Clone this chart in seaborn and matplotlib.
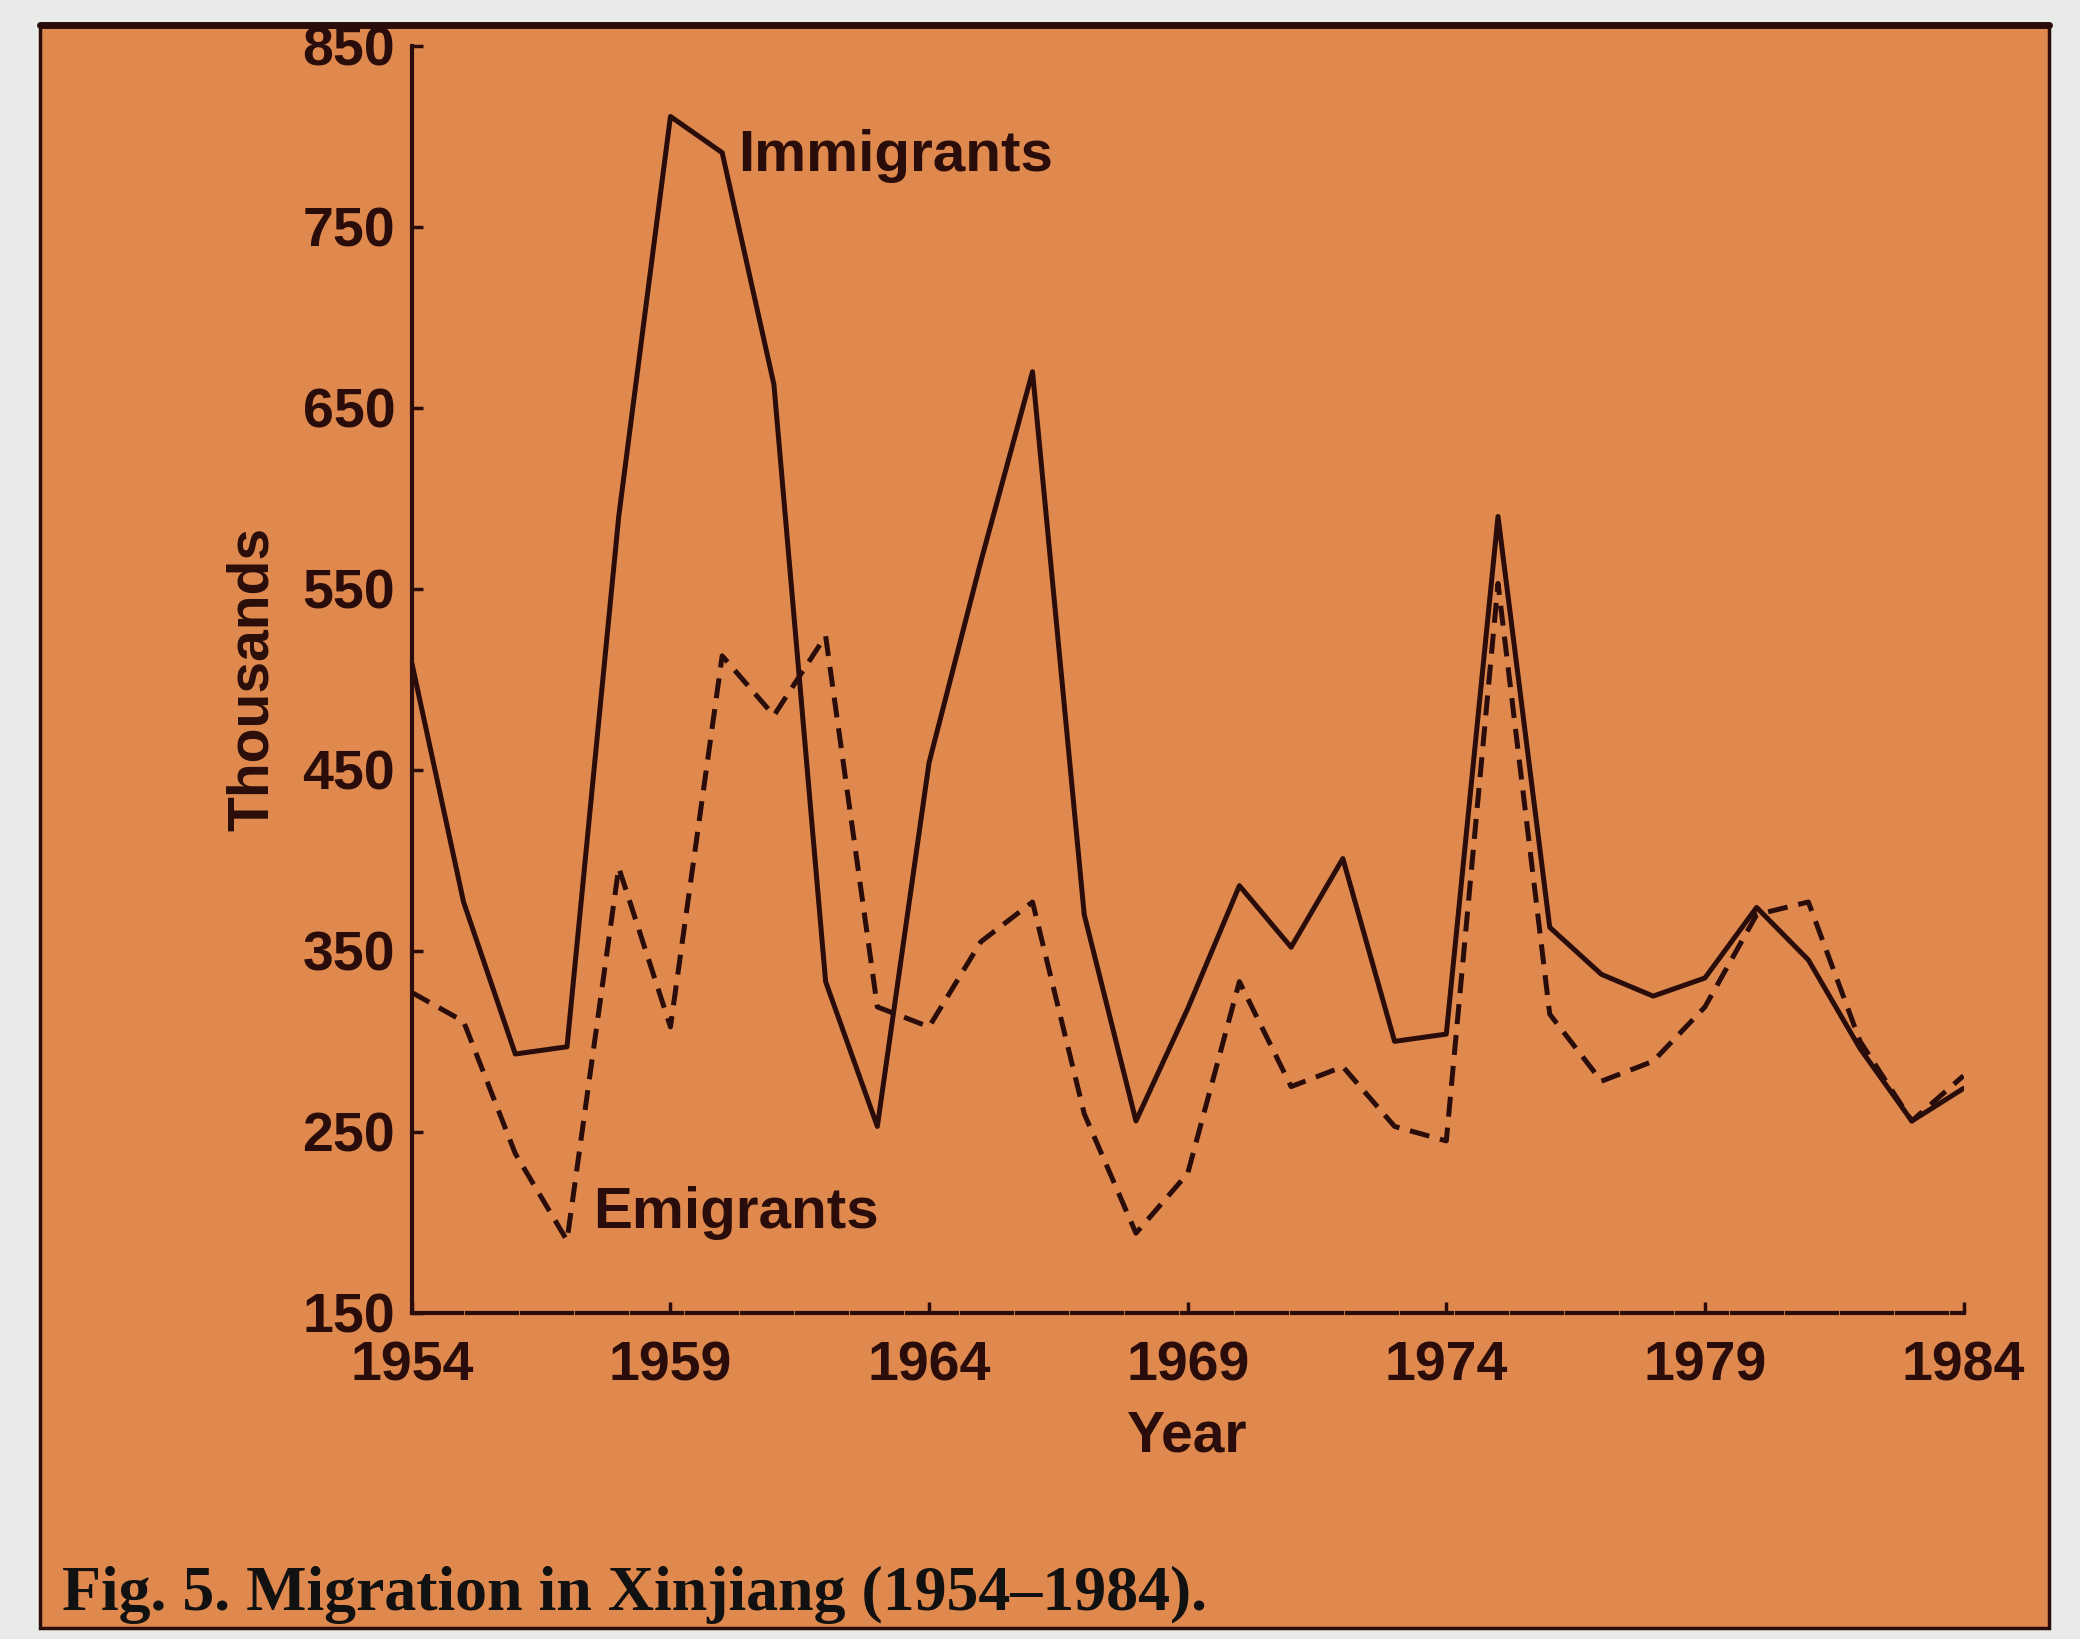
import numpy as np
import pandas as pd
import seaborn as sns
from matplotlib import pyplot as plt
from matplotlib.patches import Rectangle

# values (thousands of people)
years = list(range(1954, 1985))
immigrants = [509, 377, 293, 297, 590, 811, 791, 663, 333, 253,
              454, 565, 670, 370, 256, 318, 386, 352, 401, 300,
              304, 590, 363, 337, 325, 335, 374, 345, 296, 256, 274]
emigrants = [327, 311, 238, 190, 396, 308, 513, 480, 524, 319,
             308, 355, 377, 260, 194, 227, 333, 275, 286, 253,
             245, 553, 315, 278, 289, 319, 370, 377, 300, 256, 281]
yticks = [150, 250, 350, 450, 550, 650, 750, 850]
xticks = [1954, 1959, 1964, 1969, 1974, 1979, 1984]

ORANGE = "#e0894e"
INK = "#2a0d0a"

sns.set_style("ticks")
plt.rcParams['font.family'] = ['Liberation Sans Narrow', 'Liberation Sans', 'DejaVu Sans']
plt.rcParams['font.weight'] = 'bold'

frame = pd.DataFrame({
    'Year': years * 2,
    'Thousands': immigrants + emigrants,
    'series': ['Immigrants'] * len(years) + ['Emigrants'] * len(years),
})

fig = plt.figure(figsize=(20.8, 16.39), dpi=100, facecolor="#e9ebe8")

# the orange sheet of the scanned page
sheet = Rectangle((0.019, 0.007), 0.966, 0.978, transform=fig.transFigure,
                  facecolor=ORANGE, edgecolor=INK, linewidth=2.5, zorder=-5)
fig.patches.append(sheet)
fig.add_artist(plt.Line2D([0.019, 0.985], [0.985, 0.985], transform=fig.transFigure,
                          color=INK, linewidth=5, zorder=-4))

ax = fig.add_axes([0.198, 0.199, 0.746, 0.773])
ax.set_facecolor("none")

sns.lineplot(data=frame, x='Year', y='Thousands', style='series',
             dashes={'Immigrants': '', 'Emigrants': (4, 2.2)},
             color=INK, linewidth=3.6, legend=False, ax=ax)

ax.set_xlim(1954, 1984)
ax.set_ylim(150, 850)
ax.set_xticks(xticks)
ax.set_yticks(yticks)
ax.tick_params(direction='in', length=8, width=2.5, color=INK,
               labelsize=40, labelcolor=INK)
ax.tick_params(axis='y', pad=12)
ax.tick_params(axis='x', pad=20)
for lab in ax.get_xticklabels() + ax.get_yticklabels():
    lab.set_fontweight('bold')

sns.despine(ax=ax)
ax.spines['left'].set_color(INK)
ax.spines['left'].set_linewidth(3)
ax.spines['bottom'].set_color(INK)
ax.spines['bottom'].set_linewidth(3)
ax.spines['bottom'].set_linestyle((0, (12, 1.2)))

ax.set_xlabel("Year", fontsize=41, fontweight='bold', color=INK, labelpad=12)
ax.set_ylabel("Thousands", fontsize=41, fontweight='bold', color=INK, labelpad=16)

ax.text(1960.3, 789, "Immigrants", fontsize=42, fontweight='bold', color=INK,
        va='center', ha='left')
ax.text(1957.5, 205, "Emigrants", fontsize=42, fontweight='bold', color=INK,
        va='center', ha='left')

fig.text(0.03, 0.027, "Fig. 5. Migration in Xinjiang (1954–1984).",
         fontsize=46, fontweight='bold', color='#111111',
         family=['Liberation Serif', 'DejaVu Serif'], va='center', ha='left')

plt.savefig("out.png", dpi=100, facecolor=fig.get_facecolor())
